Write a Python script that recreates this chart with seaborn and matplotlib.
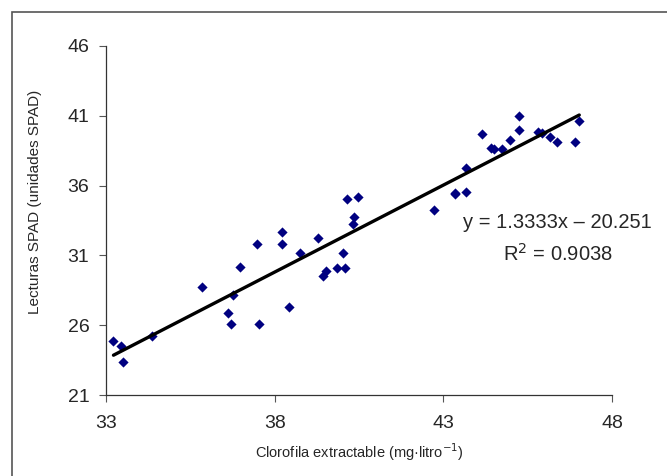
import matplotlib
matplotlib.use("Agg")
import matplotlib.pyplot as plt
import numpy as np
import pandas as pd
import seaborn as sns
from matplotlib.patches import Rectangle

# Clorofila extractable (mg/litro) vs lecturas SPAD
clorofila = [
    33.22, 33.44, 33.49, 34.37, 35.84, 36.63, 36.71, 36.76, 36.98, 37.47,
    37.52, 38.23, 38.23, 38.43, 38.74, 39.27, 39.44, 39.53, 39.85, 40.09,
    40.04, 40.15, 40.46, 40.36, 40.32, 42.71, 43.35, 43.35, 43.67, 43.67,
    44.16, 44.41, 44.51, 44.73, 44.98, 45.25, 45.25, 45.80, 45.92, 46.15,
    46.38, 46.90, 47.03,
]
spad = [
    24.87, 24.53, 23.39, 25.23, 28.72, 26.85, 26.06, 28.16, 30.15, 31.82,
    26.09, 32.70, 31.82, 27.33, 31.19, 32.23, 29.52, 29.90, 30.10, 30.08,
    31.15, 35.02, 35.18, 33.73, 33.23, 34.23, 35.45, 35.42, 35.52, 37.24,
    39.72, 38.69, 38.60, 38.64, 39.24, 41.00, 40.00, 39.86, 39.74, 39.50,
    39.15, 39.15, 40.63,
]
x_ticks = [33, 38, 43, 48]
y_ticks = [21, 26, 31, 36, 41, 46]
ecuacion = "y = 1.3333x \u2013 20.251"
r2_texto = "R$^2$ = 0.9038"

df = pd.DataFrame({"clorofila": clorofila, "spad": spad})

sns.set_theme(style="white")
plt.rcParams["font.family"] = ["Liberation Sans", "DejaVu Sans"]

fig = plt.figure(figsize=(6.67, 4.76), dpi=100)
ax = fig.add_axes([0.159, 0.170, 0.7585, 0.7336])

sns.regplot(
    data=df,
    x="clorofila",
    y="spad",
    ci=None,
    marker="D",
    ax=ax,
    scatter_kws={"s": 27, "color": "#000080", "alpha": 1, "linewidths": 0},
    line_kws={"color": "black", "linewidth": 2.4},
)

ax.set_xlim(33, 48)
ax.set_ylim(21, 46)
ax.set_xticks(x_ticks)
ax.set_yticks(y_ticks)
ax.tick_params(axis="both", labelsize=14, direction="out", length=5, width=0.8,
               color="#555555", bottom=True, left=True)
ax.tick_params(axis="y", pad=7)
ax.tick_params(axis="x", pad=9)
for side in ["top", "right"]:
    ax.spines[side].set_visible(False)
for side in ["left", "bottom"]:
    ax.spines[side].set_color("#333333")
    ax.spines[side].set_linewidth(0.9)

ax.set_xlabel("Clorofila extractable (mg\u00b7litro$^{-1}$)", fontsize=10.5)
ax.set_ylabel("Lecturas SPAD (unidades SPAD)", fontsize=11)
ax.xaxis.set_label_coords(0.5, -0.163)
ax.yaxis.set_label_coords(-0.140, 0.553)
ax.xaxis.label.set_va("center")
ax.yaxis.label.set_va("center")

fig.text(0.836, 0.532, ecuacion, ha="center", va="center", fontsize=14.5)
fig.text(0.837, 0.466, r2_texto, ha="center", va="center", fontsize=14.5)

# outer chart frame (left and top edges visible)
fig.patches.append(Rectangle((12 / 667, -0.05), 1.1, 1 - 12 / 476 + 0.05,
                             transform=fig.transFigure, fill=False,
                             edgecolor="#555555", linewidth=1.2))

fig.savefig("out.png", dpi=100)
